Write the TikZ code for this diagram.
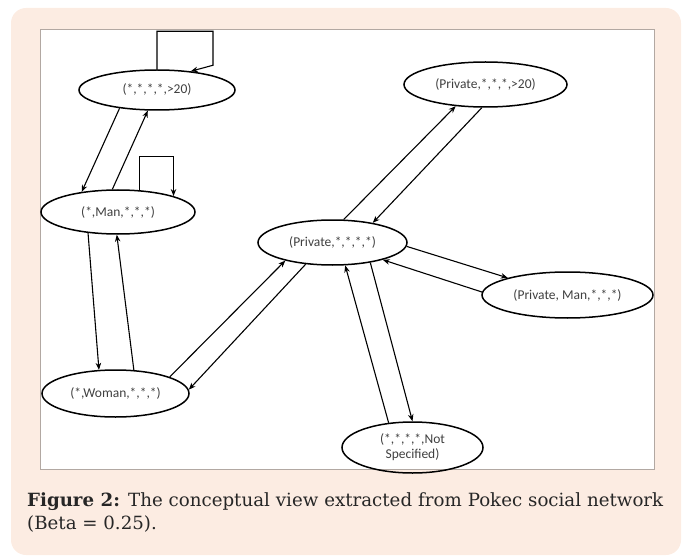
\documentclass[tikz,border=0pt]{standalone}
\usepackage{fontspec}
\setmainfont{DejaVu Serif}
\newfontfamily\statefont{Carlito}
\usepackage{tikz}
\usetikzlibrary{arrows.meta,shapes}
\definecolor{peach}{RGB}{252,236,226}
\definecolor{frame}{RGB}{178,168,162}
\tikzstyle{state} = [ellipse, draw=black, line width=1.5pt, inner sep=0pt, text=black!75, align=center, font=\statefont\fontsize{13.5}{15}\selectfont]
\tikzstyle{arrow} = [line width=1.1pt,-{Stealth[length=7pt,width=5.5pt]}]

\begin{document}
\begin{tikzpicture}[x=1pt,y=-1pt]
\useasboundingbox (0,0) rectangle (685,556);
\fill [peach, rounded corners=15pt] (11,8) rectangle (681,555);
\draw [frame, fill=white, line width=0.6pt] (40,29) rectangle (654,469);

\node (n1) [state, minimum width=156pt, minimum height=40pt] at (157,90) {(*,*,*,*,>20)};
\node (n2) [state, minimum width=154pt, minimum height=44pt] at (118,212) {(*,Man,*,*,*)};
\node (n3) [state, minimum width=147pt, minimum height=47pt] at (115.5,393.5) {(*,Woman,*,*,*)};
\node (n4) [state, minimum width=149pt, minimum height=45pt] at (332.5,242.5) {(Private,*,*,*,*)};
\node (n5) [state, minimum width=163pt, minimum height=45pt] at (485.5,84.5) {(Private,*,*,*,>20)};
\node (n6) [state, minimum width=171pt, minimum height=46pt] at (567.5,295) {(Private, Man,*,*,*)};
\node (n7) [state, minimum width=141pt, minimum height=51pt] at (412.5,447.5) {(*,*,*,*,Not\\Specified)};

\draw [arrow] (n1.north) -- ++(0,-38) -| ++(56,34) -- (n1.29);
\draw [arrow] (n2.45) -- ++(0,-34) -| (n2.16);
\draw [arrow] (n1.206.6) -- (n2.151.6);
\draw [arrow] (n2.104) -- (n1.246.5);
\draw [arrow] (n2.215) -- (n3.125.5);
\draw [arrow] (n3.52.8) -- (n2.267.4);
\draw [arrow] (n3.17.8) -- (n4.201.8);
\draw [arrow] (n4.219) -- (n3.3);
\draw [arrow] (n4.64.4) -- (n5.216.5);
\draw [arrow] (n5.261.2) -- (n4.26.9);
\draw [arrow] (n4.357.6) -- (n6.164.9);
\draw [arrow] (n6.178) -- (n4.341.6);
\draw [arrow] (n7.134.4) -- (n4.299.4);
\draw [arrow] (n4.332.6) -- (n7.90);

\node (cap) [anchor=north west, inner sep=0pt, text width=636pt, align=justify, font=\fontsize{18.2}{23}\selectfont, text=black!85] at (27,492) {\hyphenpenalty=10000 \textbf{Figure 2:} The conceptual view extracted from Pokec social network\linebreak (Beta = 0.25).};
\end{tikzpicture}
\end{document}
